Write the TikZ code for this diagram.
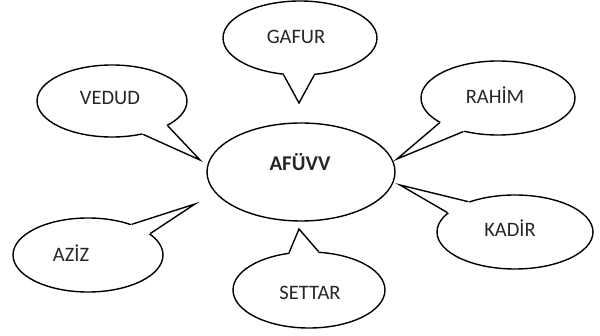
\documentclass[tikz,border=0pt]{standalone}
\usepackage{fontspec}
\setmainfont{Carlito}
\usetikzlibrary{shapes.geometric,calc}
\definecolor{txt}{HTML}{262626}
\tikzset{
  bubble/.style={ellipse, draw=black, fill=white, line width=1.4pt, inner sep=0pt},
  word/.style={text=txt, font=\fontsize{20.5}{23}\selectfont, inner sep=0pt},
  tailline/.style={draw=black, line width=1.4pt, line join=miter},
}
\newcommand{\tail}[4]{% node, angle1, angle2, tip
  \fill[white] ($(#1.#2)!3pt!(#1.center)$) -- (#1.#2) -- (#4) -- (#1.#3) -- ($(#1.#3)!3pt!(#1.center)$) -- cycle;
  \draw[tailline] (#1.#2) -- (#4) -- (#1.#3);
}
\begin{document}
\begin{tikzpicture}[x=1pt,y=-1pt]
\useasboundingbox (0,0) rectangle (600,336);
% central
\node[bubble, minimum width=188pt, minimum height=98pt] (center) at (301,172) {};
\node[word, font=\fontsize{21}{24}\selectfont\bfseries] (centert) at (300,162) {AFÜVV};
% tips
\coordinate (gtip) at (299,103);
\coordinate (vtip) at (200,160);
\coordinate (atip) at (195,204);
\coordinate (stip) at (299,229);
\coordinate (rtip) at (397,159);
\coordinate (ktip) at (400,185);
% GAFUR
\node[bubble, minimum width=154pt, minimum height=74pt] (gafur) at (300,38) {};
\tail{gafur}{246}{291}{gtip}
\node[word] (gafurt) at (296,37) {GAFUR};
% VEDUD
\node[bubble, minimum width=150pt, minimum height=72pt] (vedud) at (112,101) {};
\tail{vedud}{313}{336}{vtip}
\node[word] (vedudt) at (110,98) {VEDUD};
% AZIZ
\node[bubble, minimum width=150pt, minimum height=74pt] (aziz) at (88,255) {};
\tail{aziz}{19}{35}{atip}
\node[word] (azizt) at (71,253) {AZİZ};
% SETTAR
\node[bubble, minimum width=152pt, minimum height=76pt] (settar) at (309,290) {};
\tail{settar}{76}{118}{stip}
\node[word] (settart) at (310,293) {SETTAR};
% RAHIM
\node[bubble, minimum width=154pt, minimum height=74pt] (rahim) at (498,98) {};
\tail{rahim}{203}{224}{rtip}
\node[word] (rahimt) at (495,95) {RAHİM};
% KADIR
\node[bubble, minimum width=156pt, minimum height=74pt] (kadir) at (515,232) {};
\tail{kadir}{147}{164}{ktip}
\node[word] (kadirt) at (510,228) {KADİR};
\end{tikzpicture}
\end{document}
